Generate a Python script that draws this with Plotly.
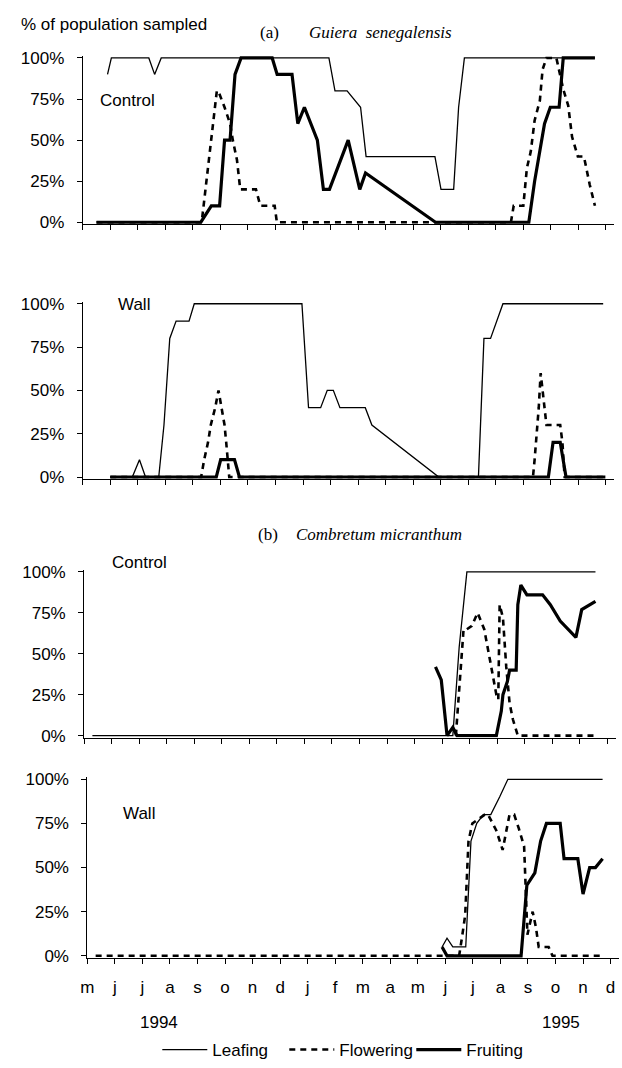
import plotly.graph_objects as go

# ---------------- data (x = months since May 1994) ----------------
MONTH_LABELS = ["m", "j", "j", "a", "s", "o", "n", "d", "j", "f", "m", "a",
                "m", "j", "j", "a", "s", "o", "n", "d"]
MONTH_TICKS = list(range(20))
YEAR_LABELS = ["1994", "1995"]
Y_TICKS = [0, 25, 50, 75, 100]
Y_TICK_TEXT = ["0%", "25%", "50%", "75%", "100%"]

# (a) Guiera senegalensis - Control
gs_ctrl_leaf_x = [0.9, 1.04, 2.40, 2.61, 2.85, 8.94, 9.16, 9.60, 10.09, 10.29, 12.79, 13.01, 13.47, 13.65, 13.86, 18.6]
gs_ctrl_leaf_y = [90, 100, 100, 90, 100, 100, 80, 80, 70, 40, 40, 20, 20, 70, 100, 100]
gs_ctrl_flow_x = [0.5, 4.32, 4.87, 4.92, 5.15, 5.35, 5.45, 5.60, 5.72, 6.29, 6.45, 6.97, 7.05,
                  15.55, 15.65, 16.0, 16.13, 16.27, 16.41, 16.6, 16.7, 16.84, 17.2, 17.45, 17.63, 17.77, 17.98, 18.2, 18.41, 18.6]
gs_ctrl_flow_y = [0, 0, 80, 80, 70, 60, 50, 38, 20, 20, 10, 10, 0,
                  0, 10, 10, 33, 43, 62, 74, 93, 100, 100, 81, 71, 52, 40, 40, 23, 10]
gs_ctrl_fruit_x = [0.5, 4.29, 4.67, 4.97, 5.15, 5.35, 5.53, 5.75, 6.88, 7.06, 7.60, 7.81, 8.05, 8.52, 8.74, 8.96,
                   9.64, 10.06, 10.27, 12.81, 16.20, 16.41, 16.77, 16.98, 17.30, 17.45, 18.6]
gs_ctrl_fruit_y = [0, 0, 10, 10, 50, 50, 90, 100, 100, 90, 90, 60, 70, 50, 20, 20,
                   50, 20, 30, 0, 0, 25, 60, 70, 70, 100, 100]

# (a) Guiera senegalensis - Wall
gs_wall_leaf_x = [1.0, 1.80, 2.06, 2.28, 2.76, 2.95, 3.16, 3.39, 3.86, 4.05, 7.96, 8.20, 8.64, 8.88, 9.10, 9.34,
                  10.26, 10.50, 12.93, 14.37, 14.57, 14.81, 15.26, 18.9]
gs_wall_leaf_y = [0, 0, 10, 0, 0, 30, 80, 90, 90, 100, 100, 40, 40, 50, 50, 40,
                  40, 30, 0, 0, 80, 80, 100, 100]
gs_wall_flow_x = [1.0, 4.30, 4.41, 4.55, 4.65, 4.81, 4.93, 5.05, 5.15, 5.21, 5.27, 5.32,
                  16.35, 16.41, 16.56, 16.63, 16.70, 16.84, 17.34, 17.42, 17.50, 18.9]
gs_wall_flow_y = [0, 0, 10, 20, 30, 40, 50, 40, 30, 20, 10, 0,
                  0, 10, 40, 60, 50, 30, 30, 20, 0, 0]
gs_wall_fruit_x = [1.0, 4.85, 5.01, 5.51, 5.69, 16.91, 17.08, 17.34, 17.55, 18.98]
gs_wall_fruit_y = [0, 0, 10, 10, 0, 0, 20, 20, 0, 0]

# (b) Combretum micranthum - Control
cm_ctrl_leaf_x = [0.3, 13.39, 13.62, 13.9, 18.57]
cm_ctrl_leaf_y = [0, 0, 54, 100, 100]
cm_ctrl_flow_x = [13.5, 13.78, 13.9, 14.08, 14.29, 14.53, 14.73, 14.97, 15.04, 15.09, 15.21, 15.33, 15.45, 15.57, 15.75, 18.6]
cm_ctrl_flow_y = [0, 65, 65, 67, 75, 65, 47, 25, 22, 80, 72, 42, 20, 10, 0, 0]
cm_ctrl_fruit_x = [12.76, 12.97, 13.18, 13.39, 13.54, 14.97, 15.15, 15.21, 15.37, 15.45, 15.69, 15.75, 15.86,
                   16.08, 16.65, 16.93, 17.29, 17.58, 17.86, 18.07, 18.57]
cm_ctrl_fruit_y = [42, 34, 0, 5, 0, 0, 15, 25, 33, 40, 40, 80, 92,
                   86, 86, 80, 70, 65, 60, 77, 82]

# (b) Combretum micranthum - Wall
cm_wall_leaf_x = [12.88, 13.06, 13.27, 13.74, 13.93, 14.14, 14.38, 14.65, 14.97, 15.27, 18.71]
cm_wall_leaf_y = [5, 10, 5, 5, 65, 75, 80, 80, 90, 100, 100]
cm_wall_flow_x = [0.3, 13.5, 13.6, 13.72, 13.84, 13.98, 14.43, 14.55, 14.85, 15.08, 15.33, 15.5, 15.67,
                  15.86, 15.98, 16.17, 16.29, 16.39, 16.75, 16.89, 18.71]
cm_wall_flow_y = [0, 0, 10, 23, 65, 75, 80, 80, 71, 60, 80, 80, 72,
                  62, 12, 25, 16, 5, 5, 0, 0]
cm_wall_fruit_x = [12.88, 13.06, 15.75, 15.96, 16.25, 16.46, 16.67, 17.17, 17.31, 17.81, 18.0, 18.24, 18.45, 18.71]
cm_wall_fruit_y = [5, 0, 0, 40, 47, 65, 75, 75, 55, 55, 35, 50, 50, 55]

SERIES_NAMES = ["Leafing", "Flowering", "Fruiting"]
PANEL_LABELS = ["Control", "Wall", "Control", "Wall"]

# ---------------- layout geometry ----------------
W, H = 622, 1068
SANS = "Liberation Sans, Arial, sans-serif"
SERIF = "Liberation Serif, Times New Roman, serif"
MONTH_PX = 27.85
X_MAX = 19.3
Y_LO, Y_HI = -1.2, 101.2

panels = [
    dict(x0=76.6, y0=218.3, y100=51.7, lx=92, ly=95,
         data=[(gs_ctrl_leaf_x, gs_ctrl_leaf_y), (gs_ctrl_flow_x, gs_ctrl_flow_y), (gs_ctrl_fruit_x, gs_ctrl_fruit_y)]),
    dict(x0=76.6, y0=476.7, y100=301.0, lx=110, ly=302,
         data=[(gs_wall_leaf_x, gs_wall_leaf_y), (gs_wall_flow_x, gs_wall_flow_y), (gs_wall_fruit_x, gs_wall_fruit_y)]),
    dict(x0=78.0, y0=739.0, y100=573.0, lx=104, ly=563,
         data=[(cm_ctrl_leaf_x, cm_ctrl_leaf_y), (cm_ctrl_flow_x, cm_ctrl_flow_y), (cm_ctrl_fruit_x, cm_ctrl_fruit_y)]),
    dict(x0=81.3, y0=962.3, y100=783.3, lx=115, ly=818,
         data=[(cm_wall_leaf_x, cm_wall_leaf_y), (cm_wall_flow_x, cm_wall_flow_y), (cm_wall_fruit_x, cm_wall_fruit_y)]),
]

styles = [
    dict(color="black", width=1.3),
    dict(color="black", width=2.6, dash="6px,5px"),
    dict(color="black", width=3.2),
]

fig = go.Figure()
layout = dict(
    width=W, height=H, autosize=False,
    margin=dict(l=0, r=0, t=0, b=0),
    paper_bgcolor="white", plot_bgcolor="white",
    font=dict(family=SANS, size=17, color="black"),
    showlegend=True,
    legend=dict(orientation="h", x=152 / W, xanchor="left", y=1 - 1058 / H, yanchor="middle",
                font=dict(family=SANS, size=17, color="black"),
                itemwidth=45, entrywidth=67, bgcolor="rgba(0,0,0,0)", tracegroupgap=0),
)
annotations = []
NP = len(panels)

for i, p in enumerate(panels):
    n = "" if i == 0 else str(i + 1)
    ppu = (p["y0"] - p["y100"]) / 100.0
    top_px = p["y100"] - (Y_HI - 100) * ppu
    bot_px = p["y0"] + (0 - Y_LO) * ppu
    ydom = [1 - bot_px / H, 1 - top_px / H]
    xdom = [p["x0"] / W, (p["x0"] + X_MAX * MONTH_PX) / W]
    last = i == NP - 1
    layout["xaxis" + n] = dict(
        domain=xdom, range=[0, X_MAX], anchor="y" + n,
        tickmode="array", tickvals=MONTH_TICKS, ticktext=MONTH_LABELS,
        showticklabels=last, ticks="outside", ticklen=5, tickwidth=1, tickcolor="black",
        showline=True, linecolor="black", linewidth=1, showgrid=False, zeroline=False,
        tickfont=dict(family=SANS, size=17, color="black"), ticklabelstandoff=9,
    )
    layout["yaxis" + n] = dict(
        domain=ydom, range=[Y_LO, Y_HI], anchor="x" + n,
        tickmode="array", tickvals=Y_TICKS, ticktext=Y_TICK_TEXT,
        ticks="outside", ticklen=5, tickwidth=1, tickcolor="black",
        showline=True, linecolor="black", linewidth=1, showgrid=False, zeroline=False,
        tickfont=dict(family=SANS, size=17, color="black"), ticklabelstandoff=9,
    )
    for k, (xs, ys) in enumerate(p["data"]):
        fig.add_trace(go.Scatter(
            x=xs, y=ys, mode="lines", line=styles[k], name=SERIES_NAMES[k],
            showlegend=(i == 0), legendgroup=SERIES_NAMES[k], hoverinfo="skip",
            xaxis="x" + n, yaxis="y" + n,
        ))
    annotations.append(dict(text=PANEL_LABELS[i], xref="paper", yref="paper",
                            x=p["lx"] / W, y=1 - p["ly"] / H, xanchor="left", yanchor="middle",
                            showarrow=False, font=dict(family=SANS, size=17, color="black")))

def ann(text, xpx, ypx, xanchor="left", family=SANS, size=17):
    annotations.append(dict(text=text, xref="paper", yref="paper", x=xpx / W, y=1 - ypx / H,
                            xanchor=xanchor, yanchor="middle", showarrow=False,
                            font=dict(family=family, size=size, color="black")))

ann("% of population sampled", 12, 18)
ann("(a)", 254, 26, family=SERIF)
ann("<i>Guiera  senegalensis</i>", 303, 26, family=SERIF)
ann("(b)", 252, 535, family=SERIF)
ann("<i>Combretum micranthum</i>", 290, 535, family=SERIF)
ann(YEAR_LABELS[0], 154, 1030, xanchor="center")
ann(YEAR_LABELS[1], 560, 1030, xanchor="center")

layout["annotations"] = annotations
fig.update_layout(**layout)
fig.write_html("out.html")
